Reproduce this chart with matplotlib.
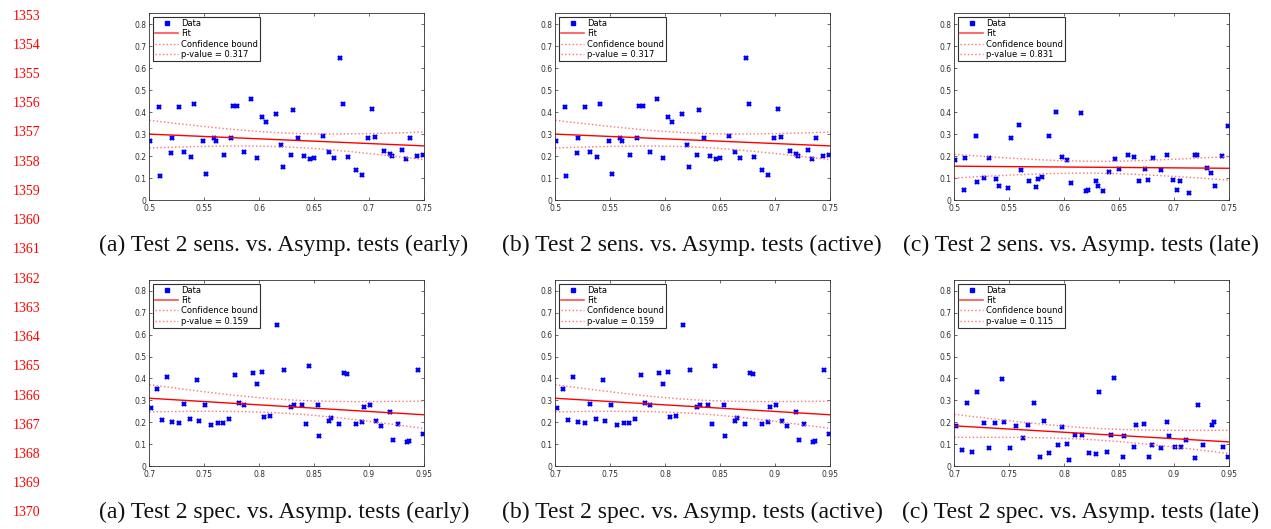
import numpy as np
import matplotlib.pyplot as plt
from matplotlib.lines import Line2D
from matplotlib.ticker import FuncFormatter

# x values shared by the panels of a row
sens_x = [0.501, 0.5085, 0.510, 0.5195, 0.521, 0.527, 0.532, 0.538, 0.541, 0.549,
          0.552, 0.559, 0.561, 0.568, 0.574, 0.576, 0.580, 0.586, 0.593, 0.598,
          0.603, 0.606, 0.615, 0.620, 0.622, 0.6295, 0.631, 0.6355, 0.641, 0.646,
          0.650, 0.658, 0.664, 0.668, 0.674, 0.676, 0.681, 0.688, 0.694, 0.6995,
          0.7025, 0.706, 0.714, 0.719, 0.721, 0.730, 0.7335, 0.7375, 0.744, 0.749]
sens_early = [0.267, 0.425, 0.109, 0.212, 0.282, 0.422, 0.220, 0.194, 0.436, 0.270,
              0.117, 0.282, 0.269, 0.203, 0.282, 0.428, 0.429, 0.217, 0.458, 0.190,
              0.376, 0.354, 0.393, 0.249, 0.149, 0.206, 0.408, 0.282, 0.199, 0.187,
              0.191, 0.291, 0.217, 0.193, 0.648, 0.439, 0.196, 0.138, 0.115, 0.281,
              0.416, 0.285, 0.225, 0.208, 0.200, 0.229, 0.185, 0.281, 0.200, 0.205]
sens_late = [0.181, 0.044, 0.190, 0.293, 0.083, 0.099, 0.191, 0.097, 0.064, 0.056,
             0.281, 0.340, 0.138, 0.086, 0.061, 0.097, 0.105, 0.293, 0.402, 0.194,
             0.181, 0.076, 0.398, 0.041, 0.046, 0.088, 0.064, 0.041, 0.129, 0.185,
             0.141, 0.206, 0.196, 0.086, 0.140, 0.090, 0.190, 0.138, 0.203, 0.090,
             0.044, 0.086, 0.030, 0.203, 0.203, 0.144, 0.123, 0.065, 0.199, 0.338]

spec_x = [0.7012, 0.707, 0.7118, 0.7158, 0.721, 0.7266, 0.7316, 0.7367, 0.7434, 0.7456,
          0.751, 0.756, 0.763, 0.767, 0.7725, 0.7782, 0.782, 0.786, 0.794, 0.798,
          0.8022, 0.8048, 0.8098, 0.816, 0.8226, 0.8292, 0.8314, 0.8389, 0.8425, 0.845,
          0.854, 0.8546, 0.8635, 0.8651, 0.873, 0.8774, 0.8801, 0.8883, 0.8937, 0.8955,
          0.901, 0.9063, 0.9111, 0.919, 0.9223, 0.9269, 0.9345, 0.9365, 0.9447, 0.9492]
spec_early = [0.266, 0.353, 0.211, 0.408, 0.202, 0.196, 0.283, 0.214, 0.392, 0.207,
              0.280, 0.186, 0.198, 0.195, 0.216, 0.414, 0.290, 0.280, 0.427, 0.374,
              0.429, 0.224, 0.228, 0.646, 0.437, 0.269, 0.280, 0.278, 0.190, 0.458,
              0.280, 0.137, 0.205, 0.219, 0.190, 0.424, 0.421, 0.192, 0.201, 0.268,
              0.280, 0.204, 0.184, 0.246, 0.117, 0.193, 0.110, 0.114, 0.437, 0.148]
spec_late = [0.181, 0.073, 0.290, 0.062, 0.336, 0.198, 0.084, 0.195, 0.397, 0.202,
             0.082, 0.184, 0.126, 0.189, 0.290, 0.041, 0.204, 0.058, 0.094, 0.178,
             0.102, 0.026, 0.140, 0.140, 0.061, 0.055, 0.336, 0.062, 0.140, 0.400,
             0.040, 0.137, 0.085, 0.189, 0.192, 0.041, 0.097, 0.084, 0.202, 0.137,
             0.087, 0.085, 0.120, 0.037, 0.278, 0.094, 0.187, 0.201, 0.087, 0.043]

p_values = ["0.317", "0.317", "0.831", "0.159", "0.159", "0.115"]
captions = ["(a) Test 2 sens. vs. Asymp. tests (early)",
            "(b) Test 2 sens. vs. Asymp. tests (active)",
            "(c) Test 2 sens. vs. Asymp. tests (late)",
            "(a) Test 2 spec. vs. Asymp. tests (early)",
            "(b) Test 2 spec. vs. Asymp. tests (active)",
            "(c) Test 2 spec. vs. Asymp. tests (late)"]
line_numbers = list(range(1353, 1371))

T_CRIT = 2.0106  # t(0.975, df=48)
AX_GRAY = "#303030"
BOUND_RED = (1.0, 0.45, 0.45)


def linear_fit(x, y, xs):
    x = np.asarray(x)
    y = np.asarray(y)
    n = len(x)
    xm = x.mean()
    sxx = ((x - xm) ** 2).sum()
    b = ((x - xm) * (y - y.mean())).sum() / sxx
    a = y.mean() - b * xm
    s = np.sqrt(((y - a - b * x) ** 2).sum() / (n - 2))
    yhat = a + b * xs
    half = T_CRIT * s * np.sqrt(1.0 / n + (xs - xm) ** 2 / sxx)
    return yhat, yhat - half, yhat + half


def draw_panel(ax, x, y, xlim, pval):
    ax.plot(x, y, "x", color="blue", ms=2.8, mew=1.7)
    xs = np.linspace(xlim[0], xlim[1], 100)
    fit, lo, hi = linear_fit(x, y, xs)
    ax.plot(xs, fit, color="red", lw=1.0)
    ax.plot(xs, lo, ":", color=BOUND_RED, lw=1.0)
    ax.plot(xs, hi, ":", color=BOUND_RED, lw=1.0)

    ax.set_xlim(xlim)
    ax.set_ylim(0, 0.85)
    ax.set_xticks(np.arange(xlim[0], xlim[1] + 0.001, 0.05))
    ax.set_yticks(np.arange(0, 0.81, 0.1))
    fmt = FuncFormatter(lambda v, p: "%g" % round(v, 3))
    ax.xaxis.set_major_formatter(fmt)
    ax.yaxis.set_major_formatter(fmt)
    ax.tick_params(direction="in", length=2.5, width=0.5, labelsize=5.5,
                   colors=AX_GRAY, top=True, right=True, pad=2)
    ax.tick_params(axis="x", pad=2.6)
    for sp in ax.spines.values():
        sp.set_color(AX_GRAY)
        sp.set_linewidth(0.6)

    handles = [Line2D([], [], ls="none", marker="s", color="blue", ms=2.2),
               Line2D([], [], color=(1.0, 0.3, 0.3), lw=1.2),
               Line2D([], [], ls=":", color=BOUND_RED, lw=1.0),
               Line2D([], [], ls=":", color=BOUND_RED, lw=1.0)]
    labels = ["Data", "Fit", "Confidence bound", "p-value = " + pval]
    leg = ax.legend(handles, labels, loc="upper left", fontsize=6,
                    fancybox=False, framealpha=1, edgecolor=AX_GRAY,
                    borderpad=0.25, labelspacing=0.15, handlelength=2.8,
                    handletextpad=0.3, borderaxespad=0.45)
    leg.get_frame().set_linewidth(0.8)


fig = plt.figure(figsize=(12.71, 5.29), dpi=100)

lefts = [149.3, 555.3, 954.3]
widths = 274.5
rows = [(13.3, 200.0), (280.0, 466.0)]
W, H = 1271.0, 529.0

panels = [(sens_x, sens_early, (0.5, 0.75)),
          (sens_x, sens_early, (0.5, 0.75)),
          (sens_x, sens_late, (0.5, 0.75)),
          (spec_x, spec_early, (0.7, 0.95)),
          (spec_x, spec_early, (0.7, 0.95)),
          (spec_x, spec_late, (0.7, 0.95))]

caption_x = [284, 692, 1081]
caption_y = [245, 512]

for i, (x, y, xlim) in enumerate(panels):
    r, c = divmod(i, 3)
    top, bot = rows[r]
    ax = fig.add_axes([lefts[c] / W, 1 - bot / H, widths / W, (bot - top) / H])
    draw_panel(ax, x, y, xlim, p_values[i])
    fig.text(caption_x[c] / W, 1 - caption_y[r] / H, captions[i],
             ha="center", va="center", fontsize=17, family="Liberation Serif",
             color="#111111")

for k, num in enumerate(line_numbers):
    yy = 16 + k * (513 - 16) / (len(line_numbers) - 1)
    fig.text(40 / W, 1 - yy / H, str(num), ha="right", va="center",
             fontsize=10, family="Liberation Serif", color="red")

fig.savefig("out.png", dpi=100)
